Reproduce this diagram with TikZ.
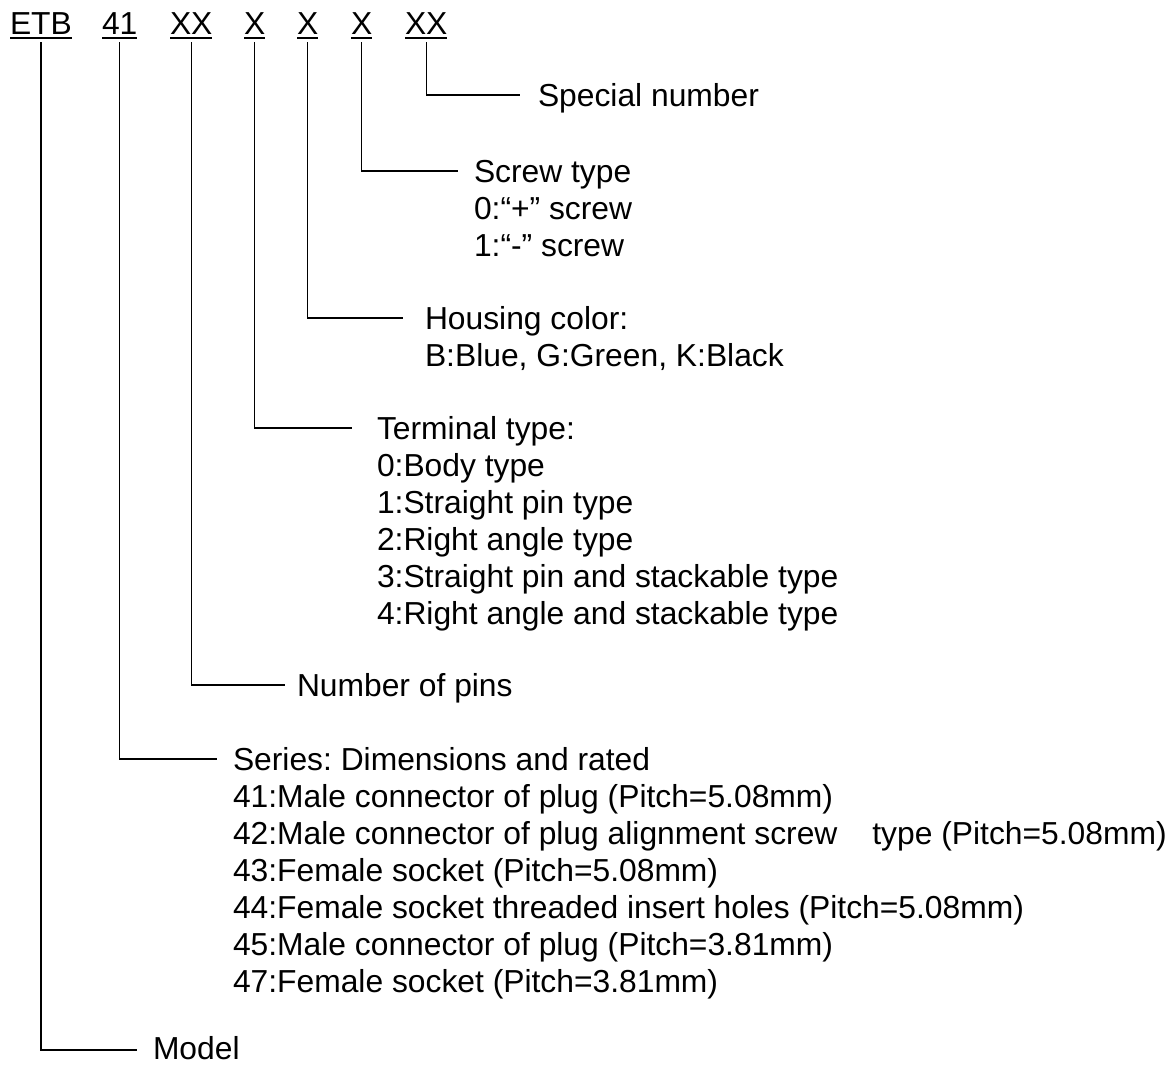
\documentclass[tikz,border=0pt]{standalone}
\usepackage{fontspec}
\setmainfont{Liberation Sans}
\frenchspacing
\begin{document}
\begin{tikzpicture}[x=1pt,y=-1pt,
  every node/.style={inner sep=0pt,outer sep=0pt,font=\fontsize{31.8}{37}\selectfont\frenchspacing},
  hdr/.style={anchor=base west},
  lbl/.style={anchor=base west},
  conn/.style={line width=1.3pt,line join=miter}]
\useasboundingbox (0,0) rectangle (1176,1066);
% header tokens
\node[hdr] (etb) at (10,34) {ETB};
\node[hdr] (n41) at (102,34) {41};
\node[hdr] (xxa) at (170,34) {XX};
\node[hdr] (xa) at (244,34) {X};
\node[hdr] (xb) at (297,34) {X};
\node[hdr] (xc) at (351,34) {X};
\node[hdr] (xxb) at (405,34) {XX};
\foreach \n in {etb,n41,xxa,xa,xb,xc,xxb}
  \draw[line width=1.3pt] ([yshift=-4pt]\n.base west) -- ([yshift=-4pt]\n.base east);
% labels
\def\off{11.5}
\node[lbl] (sp) at (538,95+\off) {Special number};
\coordinate (spE) at (520,95);

\foreach \t [count=\i from 0] in {Screw type,0:“+” screw,1:“-” screw}
  \node[lbl] (sc\i) at (474,171+\off+37*\i) {\t};
\coordinate (scE) at (458,171);

\foreach \t [count=\i from 0] in {Housing color:,{B:Blue, G:Green, K:Black}}
  \node[lbl] (hc\i) at (425,318+\off+37*\i) {\t};
\coordinate (hcE) at (403,318);

\foreach \t [count=\i from 0] in {Terminal type:,0:Body type,1:Straight pin type,2:Right angle type,3:Straight pin and stackable type,4:Right angle and stackable type}
  \node[lbl] (tt\i) at (377,428+\off+37*\i) {\t};
\coordinate (ttE) at (352,428);

\node[lbl] (np) at (297,685+\off) {Number of pins};
\coordinate (npE) at (285,685);

\foreach \t [count=\i from 0] in {Series: Dimensions and rated,41:Male connector of plug (Pitch=5.08mm),42:Male connector of plug alignment screw\hspace*{35pt}type (Pitch=5.08mm),43:Female socket (Pitch=5.08mm),44:Female socket threaded insert holes (Pitch=5.08mm),45:Male connector of plug (Pitch=3.81mm),47:Female socket (Pitch=3.81mm)}
  \node[lbl] (se\i) at (233,759+\off+37*\i) {\t};
\coordinate (seE) at (217,759);

\node[lbl] (md) at (153,1059) {Model};
\coordinate (mdE) at (137,1050);

% connectors
\draw[conn] ([yshift=-8pt]xxb.base) |- (spE);
\draw[conn] ([yshift=-8pt]xc.base) |- (scE);
\draw[conn] ([yshift=-8pt]xb.base) |- (hcE);
\draw[conn] ([yshift=-8pt]xa.base) |- (ttE);
\draw[conn] ([yshift=-8pt]xxa.base) |- (npE);
\draw[conn] ([yshift=-8pt]n41.base) |- (seE);
\draw[conn] ([yshift=-8pt]etb.base) |- (mdE);
\end{tikzpicture}
\end{document}
